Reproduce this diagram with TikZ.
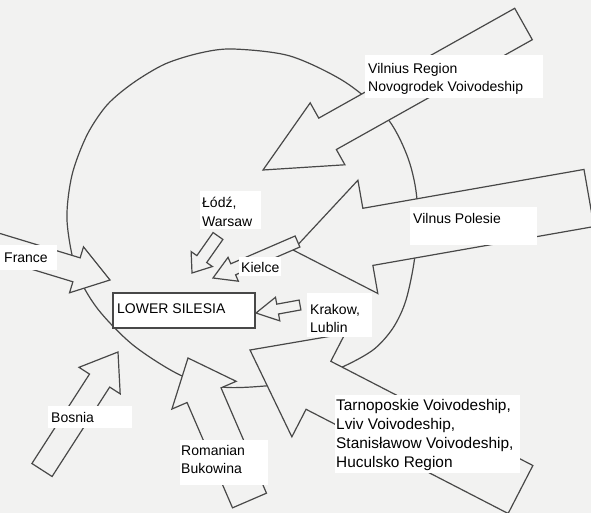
\documentclass[tikz,border=0pt]{standalone}
\usepackage{fontspec}
\setmainfont{Liberation Sans}
\usetikzlibrary{calc}
\definecolor{paper}{RGB}{242,242,241}
\definecolor{ink}{RGB}{72,72,72}
\newcommand{\lfont}{\fontsize{14}{17}\selectfont}
\newcommand{\bigfont}{\fontsize{15.4}{19}\selectfont}
\tikzset{
  arrowbody/.style={draw=ink, fill=paper, line width=1.2pt, line join=miter},
  ltxt/.style={font=\lfont, anchor=base west, inner sep=0pt, text=black},
  btxt/.style={ltxt, font=\bigfont},
  lbox/.style={fill=white}
}
\newcommand{\blockarrow}[4]{%
  \coordinate (#1-n) at ($(#1-p)!#4pt!(#1-t)$);
  \filldraw[arrowbody]
    ($(#1-t)!#2pt!90:(#1-p)$) --
    ($(#1-n)!#2pt!90:(#1-p)$) --
    ($(#1-n)!#3pt!90:(#1-p)$) --
    (#1-p) --
    ($(#1-n)!#3pt!-90:(#1-p)$) --
    ($(#1-n)!#2pt!-90:(#1-p)$) --
    ($(#1-t)!#2pt!-90:(#1-p)$) -- cycle;
}
\begin{document}
\begin{tikzpicture}[x=1pt,y=-1pt]
\useasboundingbox (0,0) rectangle (591,513);
\fill[paper] (0,0) rectangle (591,513);
\clip (0,0) rectangle (591,513);
% circle
\draw[ink, line width=1.2pt] plot[smooth cycle] coordinates {
 (233,49) (290,56) (345,82) (387,118) (408,158) (417,200) (415,255)
 (406,300) (393,328) (373,350) (340,368) (300,381) (265,386) (222,387) (180,375)
 (133,345) (97,308) (76,270) (67,220) (72,175) (87,135) (107,105)
 (133,83) (165,64) (200,53)};
% arrow end points
\coordinate (vr-t) at (523.5,24);  \coordinate (vr-p) at (263,170);
\coordinate (vp-t) at (589,198);   \coordinate (vp-p) at (293,250);
\coordinate (fr-t) at (-10,243.5); \coordinate (fr-p) at (110,280);
\coordinate (bo-t) at (42,470);    \coordinate (bo-p) at (118,352);
\coordinate (ro-t) at (249.5,500.5); \coordinate (ro-p) at (188,358);
\coordinate (ta-t) at (520.5,489.5); \coordinate (ta-p) at (250,350);
\coordinate (lw-t) at (218,236);   \coordinate (lw-p) at (192,273);
\coordinate (ki-t) at (297.5,241.5); \coordinate (ki-p) at (213,278);
\coordinate (kr-t) at (300,305);   \coordinate (kr-p) at (256,313);
\blockarrow{vr}{18}{35.5}{74}
\blockarrow{vp}{29}{57.5}{76}
\blockarrow{fr}{12.5}{24}{35}
\blockarrow{bo}{12}{24.5}{34}
\blockarrow{ro}{18.5}{35}{40.5}
\blockarrow{ta}{27}{58}{77}
\blockarrow{lw}{6}{13}{17}
\blockarrow{ki}{6}{13}{22}
\blockarrow{kr}{5}{12}{22}
% label boxes
\fill[lbox] (365,55) rectangle (543,98);
\fill[lbox] (410,207) rectangle (537,245);
\fill[lbox] (200,191) rectangle (261,229);
\fill[lbox] (239,257) rectangle (281,276);
\fill[lbox] (307,293) rectangle (372,337);
\fill[lbox] (0,245) rectangle (57,270);
\fill[lbox] (48,406) rectangle (132,428);
\fill[lbox] (180,440) rectangle (268,485);
\fill[lbox] (335,395) rectangle (520,473);
\filldraw[fill=white, draw=ink, line width=1.2pt] (113,293) rectangle (255,328);
% texts
\node[ltxt] (vr1) at (368,74) {Vilnius Region};
\node[ltxt] (vr2) at (368,92) {Novogrodek Voivodeship};
\node[ltxt] (vp1) at (413,223) {Vilnus Polesie};
\node[ltxt] (lw1) at (202,207) {Łódź,};
\node[ltxt] (lw2) at (202,226) {Warsaw};
\node[ltxt] (ki1) at (241,272) {Kielce};
\node[ltxt] (kr1) at (310,314) {Krakow,};
\node[ltxt] (kr2) at (310,332) {Lublin};
\node[ltxt] (fr1) at (4,262) {France};
\node[ltxt] (ls1) at (117,313) {LOWER SILESIA};
\node[ltxt] (bo1) at (51,422) {Bosnia};
\node[ltxt] (ro1) at (181,455) {Romanian};
\node[ltxt] (ro2) at (181,473) {Bukowina};
\node[btxt] (ta1) at (336,410) {Tarnoposkie Voivodeship,};
\node[btxt] (ta2) at (336,429) {Lviv Voivodeship,};
\node[btxt] (ta3) at (336,448) {Stanisławow Voivodeship,};
\node[btxt] (ta4) at (336,467) {Huculsko Region};
\end{tikzpicture}
\end{document}
